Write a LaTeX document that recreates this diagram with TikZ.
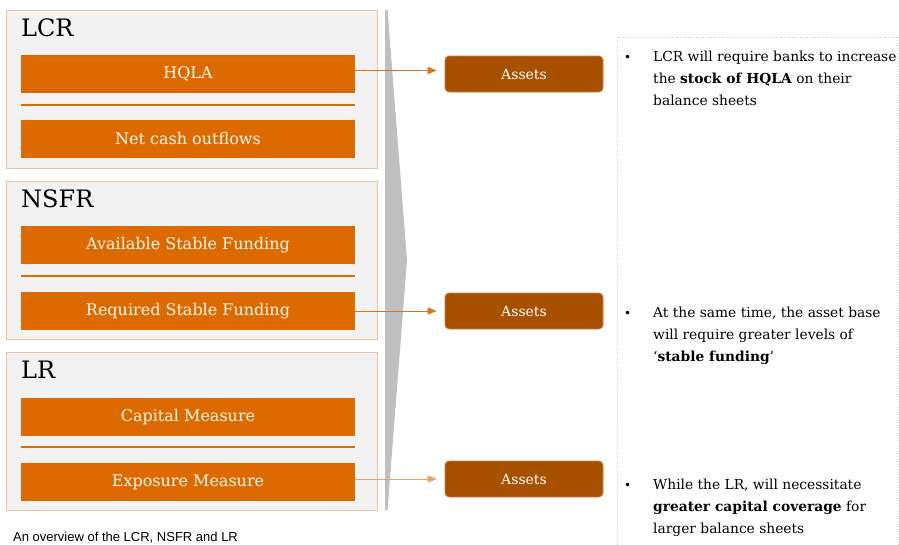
\documentclass[tikz,border=0pt]{standalone}
\usepackage{fontspec}
\setmainfont{DejaVu Serif}
\newfontfamily\capfont{Liberation Sans}
\usetikzlibrary{arrows.meta}

\definecolor{barorange}{RGB}{221,106,0}
\definecolor{assetbrown}{RGB}{166,80,0}
\definecolor{assetedge}{RGB}{200,130,70}
\definecolor{groupfill}{RGB}{242,242,242}
\definecolor{groupedge}{RGB}{230,196,166}
\definecolor{chevgray}{RGB}{191,191,191}
\definecolor{arroworange}{RGB}{228,112,20}
\definecolor{arrowpale}{RGB}{236,160,100}
\definecolor{bartext}{RGB}{255,248,236}

\tikzset{
  groupbox/.style={draw=groupedge, fill=groupfill, line width=0.9pt,
    minimum width=371pt, minimum height=158pt, anchor=north west, inner sep=0pt},
  grouptitle/.style={anchor=base west, inner sep=0pt, font=\fontsize{24}{28}\selectfont},
  metricbar/.style={fill=barorange, minimum width=334pt, minimum height=38pt,
    inner sep=0pt, text=bartext, font=\fontsize{16}{18}\selectfont},
  divider/.style={draw=barorange, line width=2pt},
  assetbox/.style={fill=assetbrown, draw=assetedge, line width=0.6pt,
    rounded corners=4pt, minimum width=158pt, minimum height=36pt,
    inner sep=0pt, text=white, font=\fontsize{14}{16}\selectfont},
  link/.style={draw=arroworange, line width=1pt,
    -{Triangle[length=9pt,width=7pt]}},
  notebullet/.style={anchor=base west, inner sep=0pt, font=\fontsize{12}{22}\selectfont},
  notetext/.style={anchor=base west, inner sep=0pt},
}

\newcommand{\notepara}[1]{\parbox[t]{290pt}{\fontsize{13.8}{22}\selectfont\raggedright #1}}

\begin{document}
\begin{tikzpicture}[x=1pt,y=-1pt]
\useasboundingbox (0,0) rectangle (899,544);
\clip (0,0) rectangle (899,544);

% right-hand commentary panel
\draw[draw=black!18, dotted, line width=0.6pt] (617,37) rectangle (898,560);

% group panels
\node[groupbox] (lcrbox)  at (6,10)  {};
\node[groupbox] (nsfrbox) at (6,181) {};
\node[groupbox] (lrbox)   at (6,352) {};

\node[grouptitle] (lcrtitle)  at (21,36)  {LCR};
\node[grouptitle] (nsfrtitle) at (21,207) {NSFR};
\node[grouptitle] (lrtitle)   at (21,378) {LR};

% metric bars
\node[metricbar] (hqla)    at (188,74)  {HQLA};
\node[metricbar] (netcash) at (188,139) {Net cash outflows};
\node[metricbar] (asf)     at (188,245) {Available Stable Funding};
\node[metricbar] (rsf)     at (188,311) {Required Stable Funding};
\node[metricbar] (capm)    at (188,417) {Capital Measure};
\node[metricbar] (expm)    at (188,482) {Exposure Measure};

% dividers between numerator and denominator
\draw[divider] (21,104.5) -- (355,104.5);
\draw[divider] (21,275.5) -- (355,275.5);
\draw[divider] (21,446.5) -- (355,446.5);

% grey chevron
\fill[chevgray] (385,10) -- (387.5,10) -- (407,260) -- (387.5,510) -- (385,510) -- cycle;

% asset boxes
\node[assetbox] (assets1) at (524,74)  {Assets};
\node[assetbox] (assets2) at (524,311) {Assets};
\node[assetbox] (assets3) at (524,479) {Assets};

% connectors
\draw[link] ([yshift=3.5pt]hqla.east) -- ([yshift=3.5pt,xshift=-8pt]hqla.east -| assets1.west);
\draw[link] (rsf.east) -- ([xshift=-8pt]rsf.east -| assets2.west);
\draw[link, draw=arrowpale] ([yshift=3pt]expm.east) -- ([yshift=3pt,xshift=-8pt]expm.east -| assets3.west);

% commentary
\node[notebullet] (b1) at (624,61) {•};
\node[notetext] (n1) at (653,61) {\notepara{LCR will require banks to increase\\the \textbf{stock of HQLA} on their\\balance sheets}};

\node[notebullet] (b2) at (624,317) {•};
\node[notetext] (n2) at (653,317) {\notepara{At the same time, the asset base\\will require greater levels of\\‘\textbf{stable funding}’}};

\node[notebullet] (b3) at (624,489) {•};
\node[notetext] (n3) at (653,489) {\notepara{While the LR, will necessitate\\\textbf{greater capital coverage} for\\larger balance sheets}};

% caption
\node[anchor=base west, inner sep=0pt, font=\capfont\fontsize{13}{15}\selectfont] (caption) at (13,541.5) {An overview of the LCR, NSFR and LR};
\end{tikzpicture}
\end{document}
